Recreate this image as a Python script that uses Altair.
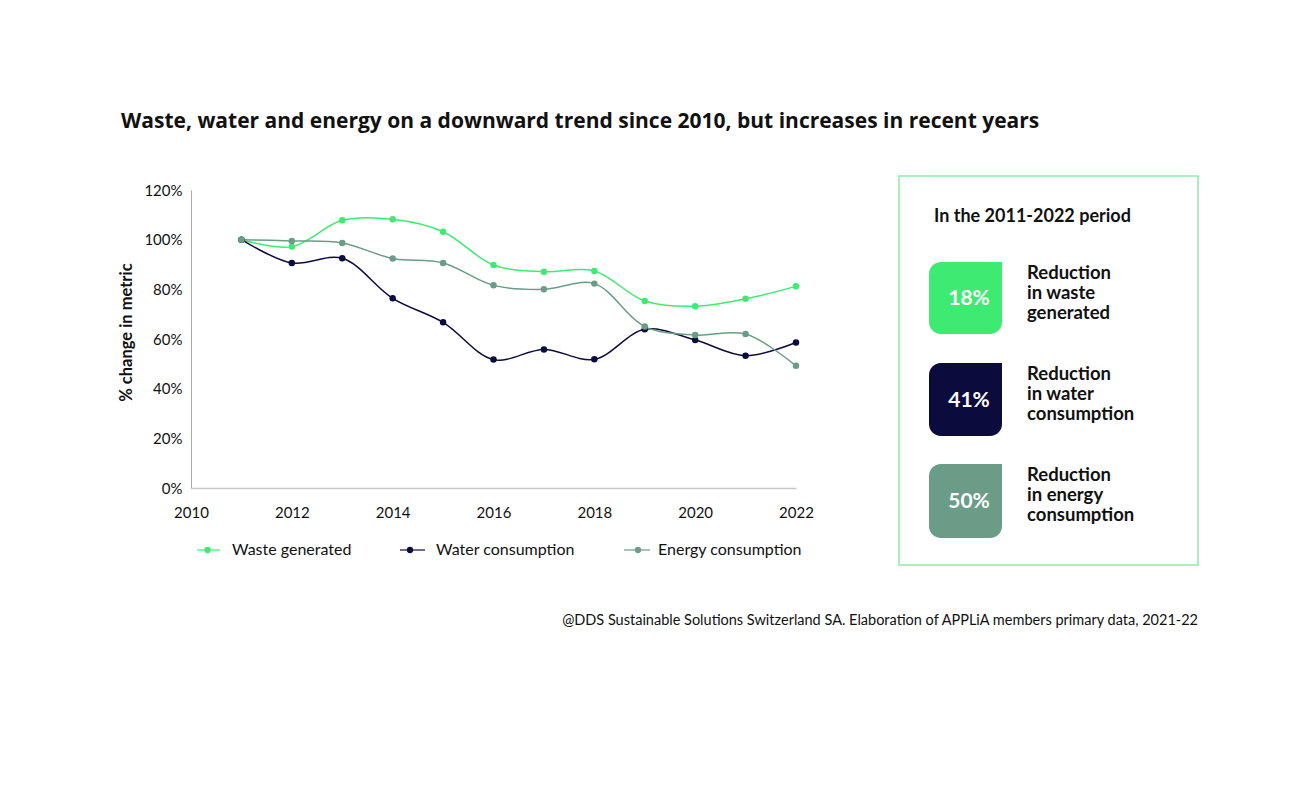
import altair as alt
import pandas as pd

# ---------------- data ----------------
years = list(range(2011, 2023))
series_names = ["Waste generated", "Water consumption", "Energy consumption"]
waste = [100, 97.2, 107.8, 108.2, 103.2, 89.8, 87.1, 87.4, 75.3, 73.2, 76.2, 81.2]
water = [100, 90.6, 92.5, 76.4, 66.7, 51.7, 55.8, 51.8, 63.9, 59.6, 53.3, 58.6]
energy = [100, 99.5, 98.7, 92.4, 90.6, 81.6, 80.0, 82.3, 65.0, 61.6, 62.0, 49.2]
colors = ["#3EEB72", "#0B0B3D", "#6A9C87"]
y_ticks = [0, 0.2, 0.4, 0.6, 0.8, 1.0, 1.2]
x_ticks = [2010, 2012, 2014, 2016, 2018, 2020, 2022]

title_text = "Waste, water and energy on a downward trend since 2010, but increases in recent years"
source_text = "@DDS Sustainable Solutions Switzerland SA. Elaboration of APPLiA members primary data, 2021-22"
y_title = "% change in metric"
panel_title = "In the 2011-2022 period"
reductions = ["18%", "41%", "50%"]
reduction_labels = [
    "Reduction\nin waste\ngenerated",
    "Reduction\nin water\nconsumption",
    "Reduction\nin energy\nconsumption",
]

rows = []
for name, vals in zip(series_names, [waste, water, energy]):
    for yr, v in zip(years, vals):
        rows.append({"year": yr, "series": name, "value": v / 100})
df = pd.DataFrame(rows)

FONT = "Lato"
TXT = "#111111"

x = alt.X(
    "year:Q",
    scale=alt.Scale(domain=[2010, 2022], nice=False, zero=False),
    axis=alt.Axis(values=x_ticks, format="d", title=None, grid=False, ticks=False,
                  tickSize=0, labelPadding=17, labelFontSize=15, labelFont=FONT,
                  labelColor=TXT, domainColor="#C8C8C8", domainWidth=1.5,
                  labelFlush=False),
)
y = alt.Y(
    "value:Q",
    scale=alt.Scale(domain=[0, 1.2], nice=False),
    axis=alt.Axis(values=y_ticks, format=".0%", title=y_title, grid=False, ticks=False,
                  tickSize=0, labelPadding=9, labelFontSize=15, labelFont=FONT,
                  labelColor=TXT, domainColor="#A8A8A8", domainWidth=1,
                  titleFont=FONT, titleFontSize=16.5, titleFontWeight="bold",
                  titleColor=TXT, titleAngle=270, titleX=-65, titleY=142,
                  titleAlign="center", titleBaseline="middle"),
)
color = alt.Color("series:N", scale=alt.Scale(domain=series_names, range=colors), legend=None)

base = alt.Chart(df).encode(x=x, y=y, color=color)
lines = base.mark_line(interpolate="catmull-rom", strokeWidth=1.5)
points = base.mark_circle(size=42, opacity=1)

one = pd.DataFrame({"k": [0]})
layers = [lines, points]

# title and source
layers.append(alt.Chart(one).mark_text(text=title_text, font="Open Sans", fontWeight="bold",
                                       fontSize=21, align="left", baseline="middle", color=TXT)
              .encode(x=alt.value(-70), y=alt.value(-68)))
layers.append(alt.Chart(one).mark_text(text=source_text, font=FONT, fontSize=14.5,
                                       align="right", baseline="middle", color=TXT)
              .encode(x=alt.value(1007), y=alt.value(431)))

# manual legend
leg_line = [(6, 29), (209, 234), (433, 459)]
leg_pt = [16.5, 219, 447]
leg_txt = [41, 245, 467]
for i, name in enumerate(series_names):
    layers.append(alt.Chart(one).mark_rule(color=colors[i], strokeWidth=1.5, opacity=0.8)
                  .encode(x=alt.value(leg_line[i][0]), x2=alt.value(leg_line[i][1]), y=alt.value(360)))
    layers.append(alt.Chart(one).mark_circle(color=colors[i], size=40, opacity=1)
                  .encode(x=alt.value(leg_pt[i]), y=alt.value(360)))
    layers.append(alt.Chart(one).mark_text(text=name, font=FONT, fontSize=16, align="left",
                                           baseline="middle", color=TXT)
                  .encode(x=alt.value(leg_txt[i]), y=alt.value(360)))

# right panel
layers.append(alt.Chart(one).mark_rect(fillOpacity=0, stroke="#8EEAA9", strokeWidth=1.5)
              .encode(x=alt.value(708), x2=alt.value(1007), y=alt.value(-14), y2=alt.value(375)))
layers.append(alt.Chart(one).mark_text(text=panel_title, font=FONT, fontWeight="bold", fontSize=18,
                                       align="left", baseline="middle", color=TXT)
              .encode(x=alt.value(743), y=alt.value(27)))
box_y = [(72, 144), (173, 246), (274, 348)]
for i in range(3):
    y0, y1 = box_y[i]
    layers.append(alt.Chart(one).mark_rect(color=colors[i], cornerRadiusTopLeft=12,
                                           cornerRadiusBottomLeft=12, cornerRadiusBottomRight=12,
                                           cornerRadiusTopRight=0)
                  .encode(x=alt.value(738), x2=alt.value(811), y=alt.value(y0), y2=alt.value(y1)))
    layers.append(alt.Chart(one).mark_text(text=reductions[i], font=FONT, fontWeight="bold",
                                           fontSize=21, align="center", baseline="middle",
                                           color="white")
                  .encode(x=alt.value(778), y=alt.value((y0 + y1) / 2 + 1)))
    layers.append(alt.Chart(one).mark_text(text=reduction_labels[i], lineBreak="\n", font=FONT,
                                           fontWeight="bold", fontSize=18.5, lineHeight=20,
                                           align="left", baseline="middle", color=TXT)
                  .encode(x=alt.value(836), y=alt.value(y0 + 11)))

chart = alt.layer(*layers).properties(
    width=605, height=298,
    autosize=alt.AutoSizeParams(type="none"),
    padding={"left": 191, "top": 190, "right": 505, "bottom": 313},
    background="white",
).configure_view(stroke=None)

chart.save("out.html", embed_options={"renderer": "svg", "actions": False})
